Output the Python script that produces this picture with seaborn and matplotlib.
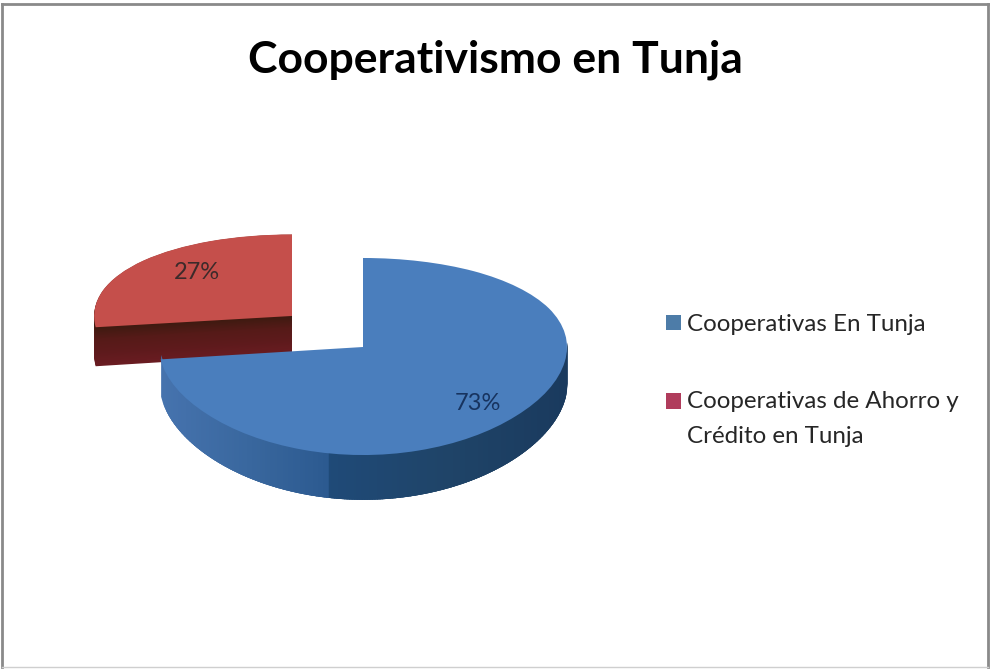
import numpy as np
import matplotlib
matplotlib.use("Agg")
import matplotlib.pyplot as plt
from matplotlib.patches import Patch
from matplotlib.colors import LinearSegmentedColormap
import seaborn as sns

# ---- data ----
categories = ["Cooperativas En Tunja", "Cooperativas de Ahorro y\nCrédito en Tunja"]
values = [73, 27]
title = "Cooperativismo en Tunja"

# ---- style ----
top_colors = sns.color_palette(["#4a7ebd", "#c54f4b"])
legend_colors = ["#4d7ca8", "#b03c5c"]
FONT = "Lato"
W, H = 990, 669

sns.set_theme(style="white")
plt.rcParams["font.family"] = [FONT, "DejaVu Sans"]

# Pixel helpers: one radius is 204 px wide; the y axis uses a perspective scale.
PX_R, TIP_X, TIP_Y = 204.0, 363.0, 347.0
A, K = 97.6, 0.0965
def persp(y):
    y = np.asarray(y, dtype=float)
    return A * y / (1 + K * y)
def persp_inv(s):
    s = np.asarray(s, dtype=float)
    return s / (A - K * s)
def dx(px):
    return (px - TIP_X) / PX_R
def dy(py):
    return float(persp_inv(TIP_Y - py))

L, R, T, B = 2, 988, 4, 667
fig = plt.figure(figsize=(W / 100, H / 100), dpi=100, facecolor="white")
ax = fig.add_axes([L / W, 1 - B / H, (R - L) / W, (B - T) / H])

DEPTH = 0.356
RED_DEPTH = 0.40
RED_C = (dx(292), 0.328)
RED_R = 0.97

# red wedge: extruded layers, bottom to top
red_wall = LinearSegmentedColormap.from_list("rw", ["#6a1c22", "#5e1a1c", "#561a18", "#3e1a10"])
for f in np.linspace(1, 0.01, 50):
    w, _ = ax.pie(values, startangle=90, counterclock=False, radius=RED_R,
                  center=(RED_C[0], RED_C[1] - RED_DEPTH * f),
                  colors=["none", red_wall(1 - f)], wedgeprops=dict(linewidth=0))
    w[0].remove()
w_red, _ = ax.pie(values, startangle=90, counterclock=False, radius=RED_R, center=RED_C,
                  colors=["none", top_colors[1]], wedgeprops=dict(linewidth=0))
w_red[0].remove()

# blue side wall: overlapping vertical bands with a left-to-right shade
wall_left = LinearSegmentedColormap.from_list("bl", ["#4673ae", "#3a689f", "#2c5a90"])
wall_right = LinearSegmentedColormap.from_list("br", ["#1f4a78", "#1f4468", "#1a3a5e"])
edges = np.linspace(-0.992, 1.0, 161)
SPLIT = dx(327)
for x0, x1 in zip(edges[:-1], edges[1:]):
    xs = np.linspace(x0, min(x1 + 0.03, 1.0), 6)
    front = -np.sqrt(np.clip(1 - xs ** 2, 0, 1))
    xm = (x0 + x1) / 2
    if xm < SPLIT:
        c = wall_left((xm + 0.992) / (SPLIT + 0.992))
    else:
        c = wall_right((xm - SPLIT) / (1 - SPLIT))
    ax.fill_between(xs, front + 0.05, front - DEPTH, color=c, linewidth=0, zorder=2)

w_blue, _, pct_blue = ax.pie(values, startangle=90, counterclock=False, radius=1.0, center=(0, 0),
                             colors=[top_colors[0], "none"], wedgeprops=dict(linewidth=0, zorder=3),
                             autopct="%d%%",
                             textprops=dict(fontsize=17, family=FONT))
w_blue[1].remove()
pct_blue[1].set_position((dx(197), dy(273)))
pct_blue[1].set_color("#3c2a2a")
pct_blue[1].set_zorder(5)
pct_blue[0].set_position((dx(478), dy(404)))
pct_blue[0].set_color("#17335f")
pct_blue[0].set_zorder(5)

ax.set_aspect("auto")
ax.set_frame_on(True)
ax.set_yscale("function", functions=(persp, persp_inv))
ax.set_xlim(dx(L), dx(R))
ax.set_ylim(dy(B), dy(T))
ax.set_xticks([])
ax.set_yticks([])
ax.minorticks_off()
for side, sp in ax.spines.items():
    sp.set_visible(True)
    sp.set_color("#8a8a8a" if side != "bottom" else "#cfcfcf")
    sp.set_linewidth(2.0 if side != "bottom" else 1.0)

ax.set_title(title, fontsize=32, fontweight="bold", color="black", family=FONT, y=1, pad=-49)

handles = [Patch(facecolor=c, edgecolor="none", label=l) for c, l in zip(legend_colors, categories)]
leg = fig.legend(handles=handles, loc="upper left", bbox_to_anchor=(666 / W, 1 - 314 / H),
                 bbox_transform=fig.transFigure, frameon=False, labelcolor="#262626",
                 handlelength=0.62, handleheight=0.62, handletextpad=0.26, labelspacing=2.3,
                 borderpad=0, borderaxespad=0, prop=dict(family=FONT, size=17.4))
for t in leg.get_texts():
    t.set_linespacing(1.82)
# keep the square of the two-line entry beside its first line
second = leg.legend_handles[1]
second.set_y(second.get_y() + 12.6)

fig.savefig("out.png", dpi=100, facecolor="white")
